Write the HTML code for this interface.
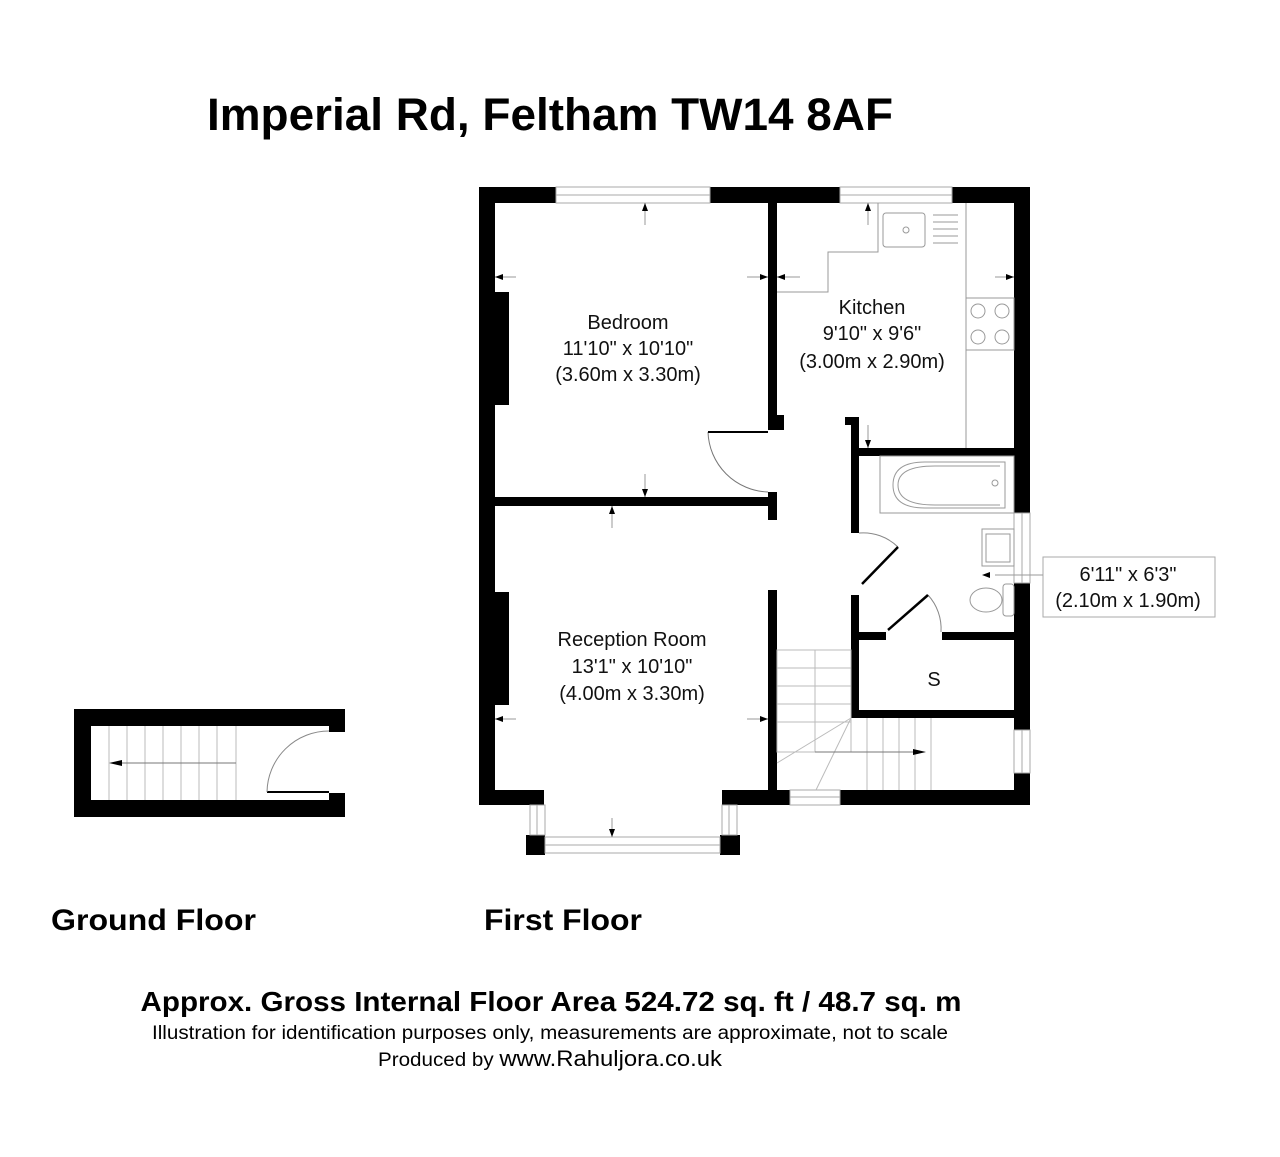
<!DOCTYPE html>
<html><head><meta charset="utf-8"><style>
html,body{margin:0;padding:0;background:#fff;}
svg{display:block}
</style></head><body>
<svg width="1280" height="1157" viewBox="0 0 1280 1157" xmlns="http://www.w3.org/2000/svg" font-family="Liberation Sans, sans-serif">
<text x="207" y="130" font-size="45" font-weight="bold" textLength="686" lengthAdjust="spacingAndGlyphs">Imperial Rd, Feltham TW14 8AF</text>

<!-- Ground floor -->
<g fill="#000">
<rect x="74" y="709" width="271" height="17"/>
<rect x="74" y="800" width="271" height="17"/>
<rect x="74" y="709" width="17" height="108"/>
<rect x="329" y="709" width="16" height="23"/>
<rect x="329" y="793" width="16" height="24"/>
</g>
<g stroke="#bbb" stroke-width="1">
<line x1="109" y1="726" x2="109" y2="800"/><line x1="127" y1="726" x2="127" y2="800"/><line x1="145" y1="726" x2="145" y2="800"/><line x1="163" y1="726" x2="163" y2="800"/><line x1="181" y1="726" x2="181" y2="800"/><line x1="199" y1="726" x2="199" y2="800"/><line x1="217" y1="726" x2="217" y2="800"/><line x1="236" y1="726" x2="236" y2="800"/>
</g>
<line x1="118" y1="763" x2="236" y2="763" stroke="#777" stroke-width="1"/>
<polygon points="109,763 122,760 122,766" fill="#000"/>
<line x1="267" y1="792" x2="329" y2="792" stroke="#000" stroke-width="2"/>
<path d="M267,792 A62,62 0 0 1 329,731" fill="none" stroke="#888" stroke-width="1"/>

<!-- First floor walls -->
<g fill="#000">
<rect x="479" y="187" width="77" height="16"/>
<rect x="710" y="187" width="130" height="16"/>
<rect x="952" y="187" width="78" height="16"/>
<rect x="479" y="187" width="16" height="618"/>
<rect x="495" y="292" width="14" height="113"/>
<rect x="495" y="592" width="14" height="113"/>
<rect x="1014" y="187" width="16" height="326"/>
<rect x="1014" y="583" width="16" height="147"/>
<rect x="1014" y="773" width="16" height="32"/>
<rect x="768" y="203" width="9" height="227"/>
<rect x="768" y="415" width="16" height="15"/>
<rect x="768" y="492" width="9" height="28"/>
<rect x="495" y="497" width="282" height="9"/>
<rect x="768" y="590" width="9" height="200"/>
<rect x="479" y="790" width="65" height="15"/>
<rect x="722" y="790" width="68" height="15"/>
<rect x="840" y="790" width="190" height="15"/>
<rect x="526" y="835" width="19" height="20"/>
<rect x="720" y="835" width="20" height="20"/>
<rect x="845" y="417" width="14" height="8"/>
<rect x="851" y="417" width="8" height="116"/>
<rect x="851" y="448" width="179" height="8"/>
<rect x="851" y="595" width="8" height="123"/>
<rect x="851" y="632" width="35" height="8"/>
<rect x="942" y="632" width="80" height="8"/>
<rect x="851" y="710" width="179" height="8"/>
</g>
<!-- windows -->
<g fill="none" stroke="#aaa" stroke-width="1">
<rect x="556" y="187" width="154" height="16"/><line x1="556" y1="195" x2="710" y2="195"/>
<rect x="840" y="187" width="112" height="16"/><line x1="840" y1="195" x2="952" y2="195"/>
<rect x="1014" y="513" width="16" height="70"/><line x1="1022" y1="513" x2="1022" y2="583"/>
<rect x="1014" y="730" width="16" height="43"/><line x1="1022" y1="730" x2="1022" y2="773"/>
<rect x="790" y="790" width="50" height="15"/><line x1="790" y1="797" x2="840" y2="797"/>
<rect x="530" y="805" width="15" height="30"/><line x1="537" y1="805" x2="537" y2="835"/>
<rect x="722" y="805" width="15" height="30"/><line x1="729" y1="805" x2="729" y2="835"/>
<rect x="545" y="837" width="175" height="16"/><line x1="545" y1="845" x2="720" y2="845"/>
</g>
<!-- kitchen fittings -->
<g fill="none" stroke="#999" stroke-width="1">
<polyline points="878,203 878,252 828,252 828,292 777,292"/>
<line x1="966" y1="203" x2="966" y2="448"/>
<rect x="883" y="213" width="42" height="34" rx="3"/>
<line x1="933" y1="215" x2="958" y2="215"/><line x1="933" y1="222" x2="958" y2="222"/><line x1="933" y1="229" x2="958" y2="229"/><line x1="933" y1="236" x2="958" y2="236"/><line x1="933" y1="243" x2="958" y2="243"/>
<rect x="966" y="298" width="48" height="52"/>
<circle cx="978" cy="311" r="7"/><circle cx="1002" cy="311" r="7"/><circle cx="978" cy="337" r="7"/><circle cx="1002" cy="337" r="7"/>
<circle cx="906" cy="230" r="3"/>
<rect x="880" y="456" width="134" height="57"/>
<path d="M1005,462 L925,462 Q893,462 893,485 Q893,508 925,508 L1005,508 Z"/>
<path d="M1000,466 L935,466 Q898,466 898,485 Q898,505 935,505 L1000,505"/>
<circle cx="995" cy="483" r="3"/>
<rect x="982" y="529" width="32" height="37"/>
<rect x="986" y="534" width="24" height="28"/>
<rect x="1003" y="584" width="11" height="32" rx="3"/>
<ellipse cx="986" cy="600" rx="16" ry="12"/>
<rect x="1043" y="557" width="172" height="60" stroke="#aaa"/>
<line x1="995" y1="575" x2="1043" y2="575"/>
<path d="M708,432 A62,62 0 0 0 768,492" stroke="#777"/>
<line x1="708" y1="432" x2="768" y2="432" stroke="#000" stroke-width="2"/>
<path d="M859,533 A50,50 0 0 1 898,547" stroke="#888"/>
<path d="M928,595 A50,50 0 0 1 941,632" stroke="#888"/>
<g stroke="#bbb">
<rect x="777" y="650" width="74" height="102"/>
<line x1="777" y1="668" x2="851" y2="668"/><line x1="777" y1="686" x2="851" y2="686"/><line x1="777" y1="704" x2="851" y2="704"/><line x1="777" y1="722" x2="851" y2="722"/>
<line x1="815" y1="650" x2="815" y2="752"/>
<line x1="851" y1="718" x2="777" y2="763"/><line x1="851" y1="718" x2="816" y2="790"/>
<line x1="867" y1="718" x2="867" y2="790"/><line x1="883" y1="718" x2="883" y2="790"/><line x1="899" y1="718" x2="899" y2="790"/><line x1="915" y1="718" x2="915" y2="790"/><line x1="931" y1="718" x2="931" y2="790"/>
<line x1="815" y1="752" x2="920" y2="752" stroke="#777"/>
</g>
</g>
<polygon points="926,752 913,749 913,755" fill="#000"/>
<g stroke="#000" stroke-width="2.5">
<line x1="898" y1="547" x2="862" y2="584"/>
<line x1="928" y1="595" x2="888" y2="630"/>
</g>
<g stroke="#999" stroke-width="1">
<line x1="645" y1="203" x2="645" y2="225"/><line x1="645" y1="474" x2="645" y2="497"/>
<line x1="495" y1="277" x2="516" y2="277"/><line x1="747" y1="277" x2="768" y2="277"/>
<line x1="777" y1="277" x2="800" y2="277"/><line x1="995" y1="277" x2="1014" y2="277"/>
<line x1="868" y1="203" x2="868" y2="225"/><line x1="868" y1="425" x2="868" y2="448"/>
<line x1="612" y1="506" x2="612" y2="528"/><line x1="612" y1="818" x2="612" y2="837"/>
<line x1="495" y1="719" x2="516" y2="719"/><line x1="747" y1="719" x2="768" y2="719"/>
</g>
<g fill="#000">
<polygon points="645,203 642,211 648,211"/><polygon points="645,497 642,489 648,489"/>
<polygon points="495,277 503,274 503,280"/><polygon points="768,277 760,274 760,280"/>
<polygon points="777,277 785,274 785,280"/><polygon points="1014,277 1006,274 1006,280"/>
<polygon points="868,203 865,211 871,211"/><polygon points="868,448 865,440 871,440"/>
<polygon points="612,506 609,514 615,514"/><polygon points="612,837 609,829 615,829"/>
<polygon points="495,719 503,716 503,722"/><polygon points="768,719 760,716 760,722"/>
<polygon points="982,575 990,572 990,578"/>
</g>

<g font-size="20" fill="#111" text-anchor="middle">
<text x="628" y="329">Bedroom</text>
<text x="628" y="355">11'10" x 10'10"</text>
<text x="628" y="381">(3.60m x 3.30m)</text>
<text x="872" y="314">Kitchen</text>
<text x="872" y="340">9'10" x 9'6"</text>
<text x="872" y="368">(3.00m x 2.90m)</text>
<text x="632" y="646">Reception Room</text>
<text x="632" y="673">13'1" x 10'10"</text>
<text x="632" y="700">(4.00m x 3.30m)</text>
<text x="934" y="686">S</text>
<text x="1128" y="581">6'11" x 6'3"</text>
<text x="1128" y="607">(2.10m x 1.90m)</text>
</g>

<text x="51" y="930" font-size="30" font-weight="bold" textLength="205" lengthAdjust="spacingAndGlyphs">Ground Floor</text>
<text x="484" y="930" font-size="30" font-weight="bold" textLength="158" lengthAdjust="spacingAndGlyphs">First Floor</text>

<text x="551" y="1011" font-size="28" font-weight="bold" text-anchor="middle" textLength="821" lengthAdjust="spacingAndGlyphs">Approx. Gross Internal Floor Area 524.72 sq. ft / 48.7 sq. m</text>
<text x="550" y="1039" font-size="19" text-anchor="middle" textLength="796" lengthAdjust="spacingAndGlyphs">Illustration for identification purposes only, measurements are approximate, not to scale</text>
<text x="550" y="1066" font-size="19" text-anchor="middle" textLength="344" lengthAdjust="spacingAndGlyphs">Produced by <tspan font-size="22">www.Rahuljora.co.uk</tspan></text>
</svg>
</body></html>
